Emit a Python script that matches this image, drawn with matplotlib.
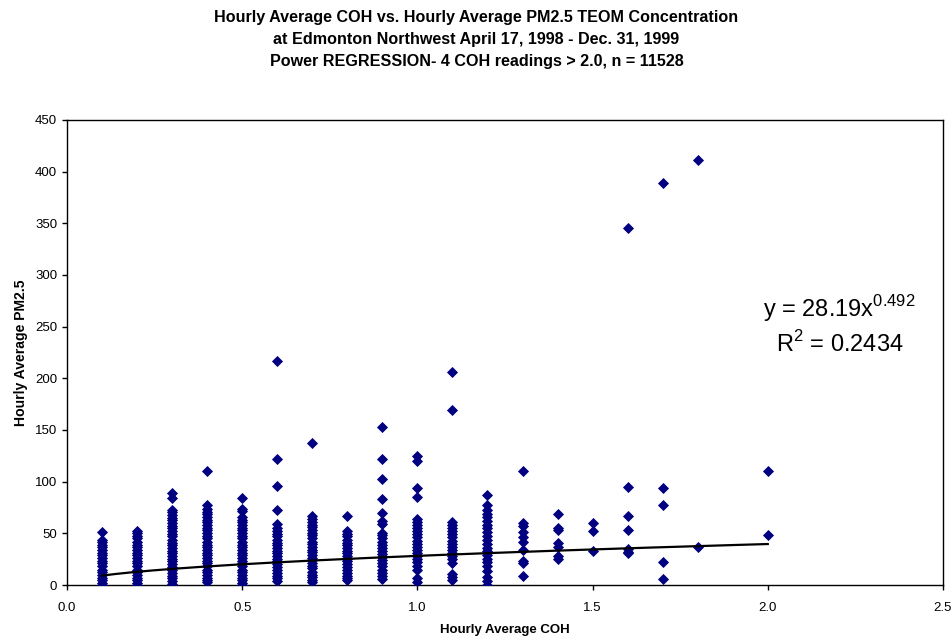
import numpy as np
import matplotlib
matplotlib.use("Agg")
import matplotlib.pyplot as plt

plt.rcParams['font.family'] = ['Liberation Sans', 'DejaVu Sans']
plt.rcParams['mathtext.fontset'] = 'custom'
plt.rcParams['mathtext.rm'] = 'Liberation Sans'

# hourly average COH values (x) and PM2.5 readings (y)
coh_levels = [0.1, 0.2, 0.3, 0.4, 0.5, 0.6, 0.7, 0.8, 0.9, 1.0,
              1.1, 1.2, 1.3, 1.4, 1.5, 1.6, 1.7, 1.8, 2.0]

pm_01 = [51, 44, 42, 39, 37, 34, 31, 29, 26, 23, 21, 18, 15, 13, 10, 7, 5, 2, 0]
pm_02 = [52, 50, 47, 45, 42, 39, 37, 34, 31, 29, 26, 23, 21, 18, 15, 13, 10, 7, 5, 2, 0]
pm_03 = [89, 84, 73, 71, 68, 65, 63, 60, 57, 55, 52, 49, 47, 44, 41, 39, 36, 33, 31,
         28, 25, 23, 20, 17, 15, 12, 9, 7, 4, 1]
pm_04 = [110, 77, 74, 71, 69, 66, 63, 61, 58, 55, 53, 50, 47, 45, 42, 39, 37, 34, 31,
         29, 26, 23, 21, 18, 15, 13, 10, 7, 5, 3]
pm_05 = [84, 74, 72, 66, 63, 61, 58, 55, 53, 50, 47, 45, 42, 39, 37, 34, 31, 29, 26,
         23, 21, 18, 15, 13, 10, 7, 5, 2, 0]
pm_06 = [217, 122, 96, 73, 59, 55, 52, 49, 47, 44, 41, 39, 36, 33, 31, 28, 25, 23, 20,
         17, 15, 12, 9, 7, 4]
pm_07 = [137, 67, 64, 61, 58, 56, 53, 50, 48, 45, 42, 40, 37, 34, 32, 29, 26, 24, 21,
         18, 16, 13, 10, 8, 5, 3]
pm_08 = [67, 52, 49, 47, 44, 41, 39, 36, 33, 31, 28, 25, 23, 20, 17, 15, 12, 9, 7, 5]
pm_09 = [153, 122, 103, 83, 70, 62, 59, 50, 48, 45, 42, 39, 36, 33, 30, 27, 24, 21,
         18, 15, 12, 9, 6]
pm_10 = [125, 120, 94, 85, 64, 61, 58, 55, 52, 49, 46, 43, 40, 37, 34, 31, 28, 25,
         22, 18, 15, 7, 3]
pm_11 = [206, 169, 61, 58, 55, 52, 49, 46, 43, 40, 37, 34, 31, 28, 25, 21, 11, 8, 5]
pm_12 = [87, 77, 73, 69, 66, 62, 58, 55, 51, 47, 44, 40, 36, 33, 29, 25, 22, 18, 14,
         8, 4, 0]
pm_13 = [110, 60, 57, 51, 46, 42, 34, 23, 21, 9]
pm_14 = [69, 55, 53, 41, 37, 28, 25]
pm_15 = [60, 52, 33]
pm_16 = [345, 95, 67, 53, 35, 32, 31]
pm_17 = [389, 94, 77, 22, 6]
pm_18 = [411, 37]
pm_20 = [110, 48]

pm_columns = [pm_01, pm_02, pm_03, pm_04, pm_05, pm_06, pm_07, pm_08, pm_09, pm_10,
              pm_11, pm_12, pm_13, pm_14, pm_15, pm_16, pm_17, pm_18, pm_20]

# power regression shown on the chart
fit_coef = 28.19
fit_exp = 0.492
fit_r2 = 0.2434

xs = []
ys = []
for c, col in zip(coh_levels, pm_columns):
    xs += [c] * len(col)
    ys += col

fig = plt.figure(figsize=(9.53, 6.43), dpi=100)
ax = fig.add_axes([0.0703, 0.0902, 0.9192, 0.7232])

ax.scatter(xs, ys, marker='D', s=32, color='#000080', linewidths=0, zorder=3)

xf = np.linspace(min(coh_levels), max(coh_levels), 200)
ax.plot(xf, fit_coef * xf ** fit_exp, color='black', lw=1.6, zorder=4)

ax.set_xlim(0, 2.5)
ax.set_ylim(0, 450)
ax.set_xticks(np.arange(0, 2.51, 0.5))
ax.set_xticklabels(['0.0', '0.5', '1.0', '1.5', '2.0', '2.5'])
ax.set_yticks(np.arange(0, 451, 50))
ax.tick_params(direction='out', length=3.6, width=1, labelsize=9.5, colors='black')
ax.tick_params(axis='x', pad=8.5)
for s in ax.spines.values():
    s.set_linewidth(1)
    s.set_color('black')

ax.set_xlabel('Hourly Average COH', fontsize=9.5, fontweight='bold', labelpad=7)
ax.set_ylabel('Hourly Average PM2.5', fontsize=10.1, fontweight='bold', labelpad=5)

ax.text(2.203, 259.5, r'y = 28.19x$^{\mathrm{0.492}}$', fontsize=17, ha='center', va='baseline')
ax.text(2.206, 225.5, r'R$^{\mathrm{2}}$ = ' + str(fit_r2), fontsize=17, ha='center', va='baseline')

fig.text(0.5, 0.973, 'Hourly Average COH vs. Hourly Average PM2.5 TEOM Concentration',
         ha='center', va='center', fontsize=11.6, fontweight='bold')
fig.text(0.5, 0.939, 'at Edmonton Northwest April 17, 1998 - Dec. 31, 1999',
         ha='center', va='center', fontsize=11.6, fontweight='bold')
fig.text(0.5, 0.905, 'Power REGRESSION- 4 COH readings > 2.0, n = 11528',
         ha='center', va='center', fontsize=11.6, fontweight='bold')

fig.savefig('out.png', dpi=100, facecolor='white')
